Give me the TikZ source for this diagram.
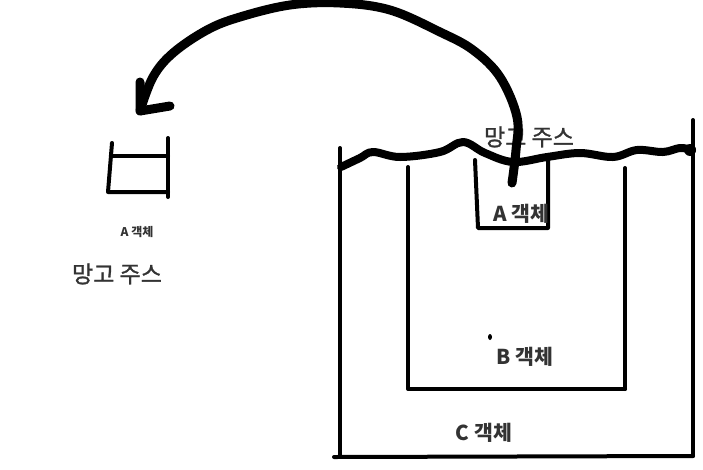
\documentclass[tikz,border=0pt]{standalone}
\usepackage{fontspec}
\newfontfamily\kr{Noto Sans CJK KR}
\newfontfamily\krm{Noto Sans CJK KR}[FakeBold=1.2]
\begin{document}
\begin{tikzpicture}[x=1pt,y=-1pt,
  wall/.style={line width=4pt,line cap=round,line join=round},
  thick curve/.style={line width=9pt,line cap=round,line join=round},
  lbl/.style={text=black!80,font=\krm\fontsize{23}{25}\selectfont,inner sep=0pt},
  objlbl/.style={text=black!80,font=\kr\bfseries\fontsize{20.5}{22}\selectfont,inner sep=0pt},
  smalllbl/.style={text=black!80,font=\kr\bfseries\fontsize{12}{13}\selectfont,inner sep=0pt}]
\useasboundingbox (0,0) rectangle (703,469);
\fill[white] (0,0) rectangle (703,469);

% small cup (A object, left)
\draw[wall] (112,143) -- (108,192) -- (168,192);
\draw[wall] (168,138) -- (168,197);
\draw[wall] (112,156) -- (168,156);
\node[smalllbl] (smallA) at (137,232) {A 객체};
\node[lbl] (leftjuice) at (117,274) {망고 주스};

% C container
\draw[wall] (340,148) -- (340,456);
\draw[wall] (693,120) -- (693,456);
\draw[wall] (334,457) -- (693,456);
% B container
\draw[wall] (408,167) -- (408,389) -- (625,389);
\draw[wall] (625,168) -- (625,389);
% A cup
\draw[wall] (475,160) -- (478,228) -- (548,228) -- (548,160);

% labels (under the surface line)
\node[lbl] (juice) at (529,137) {망고 주스};
\node[objlbl] (objA) at (521,214) {A 객체};
\node[objlbl] (objB) at (525,357) {B 객체};
\node[objlbl] (objC) at (484,433) {C 객체};
\fill (490,337) ellipse (2pt and 3pt);

% wavy juice surface
\draw[line width=8pt,line cap=round,line join=round]
  plot[smooth,tension=0.6] coordinates {(341,167) (360,158) (373,152) (400,157) (440,152) (463,142) (485,153) (513,162) (547,157) (580,153) (613,157) (637,150) (663,152) (680,148) (692,150)};
\fill (690,150) circle (6pt);

% big arrow
\coordinate (arrowstart) at (512,183);
\coordinate (arrowtip) at (140,111);
\draw[thick curve] plot[smooth,tension=0.6] coordinates {(512,183) (516,150) (517,117) (500,77) (473,50) (440,32) (390,10) (340,3) (290,5) (240,17) (207,30) (173,53) (153,77) (140,111)};
\draw[thick curve] (140,82) -- (arrowtip) -- (170,106);
\end{tikzpicture}
\end{document}
